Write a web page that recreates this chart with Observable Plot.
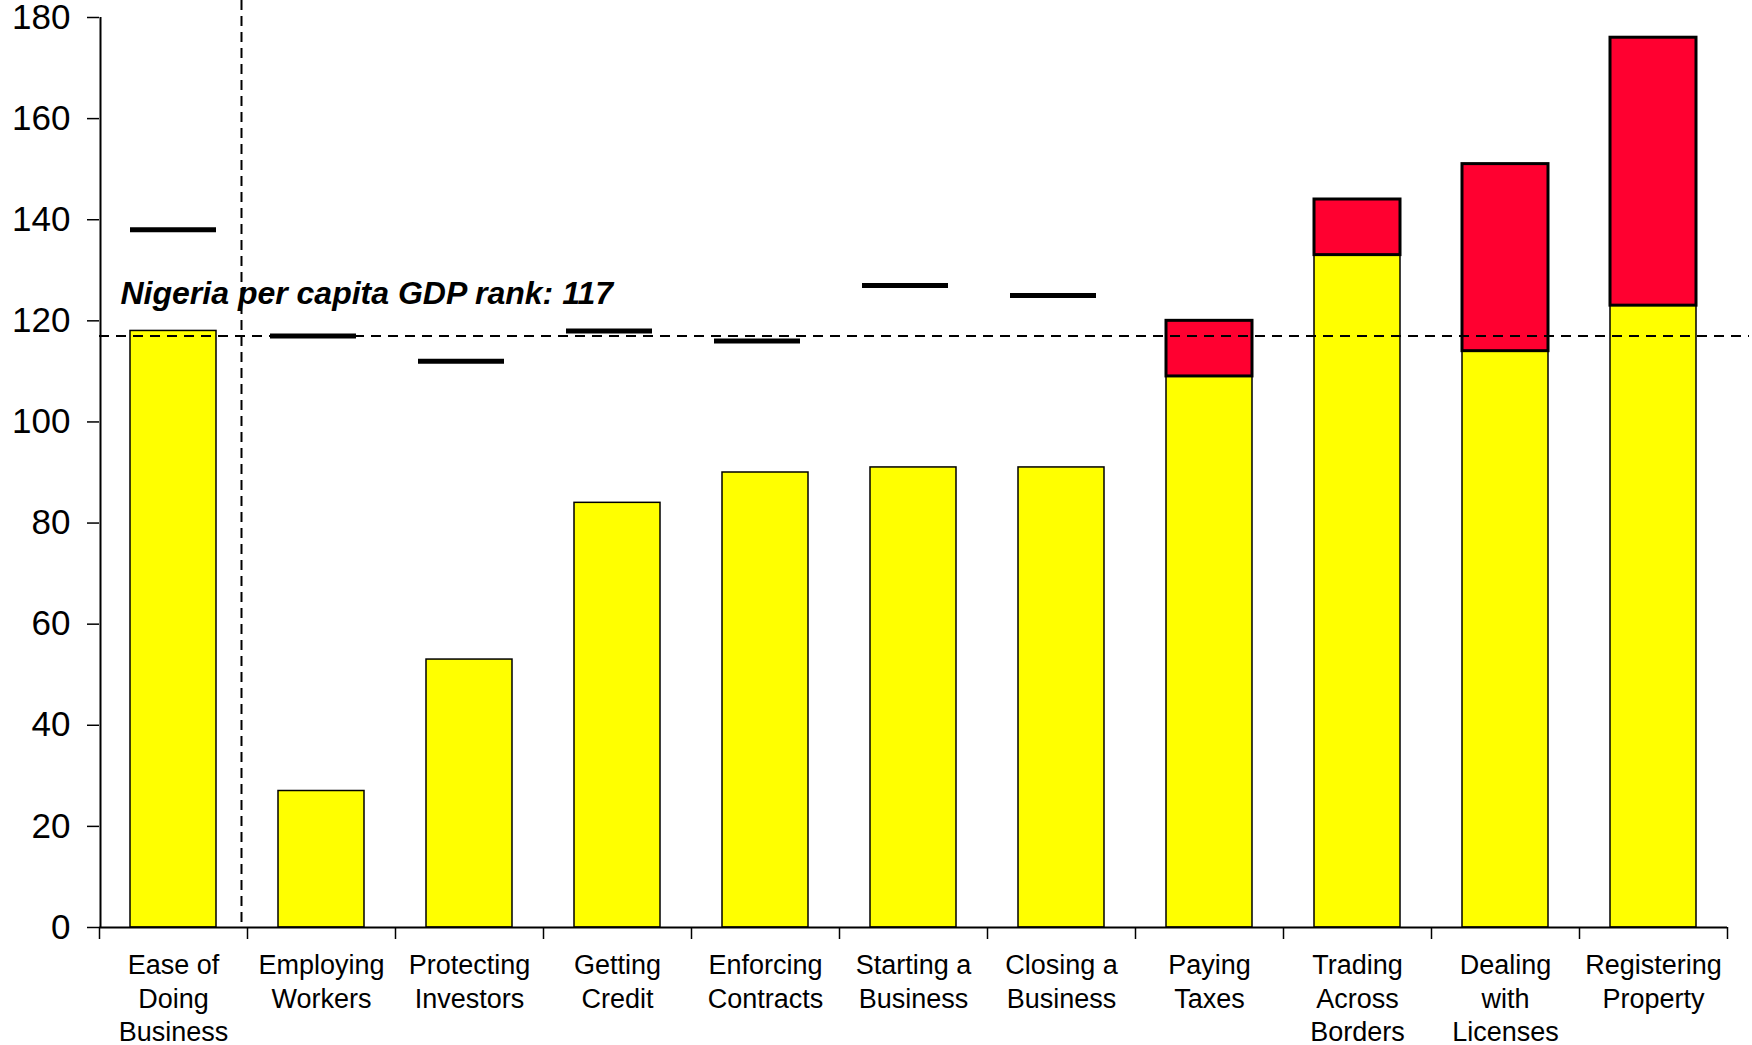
<!DOCTYPE html>
<html>
<head>
<meta charset="utf-8">
<script src="https://cdn.jsdelivr.net/npm/d3@7"></script>
<script src="https://cdn.jsdelivr.net/npm/@observablehq/plot@0.6"></script>
<style>
  body { margin: 0; background: #fff; }
  #chart svg { display: block; }
</style>
</head>
<body>
<div id="chart"></div>
<script>
const categories = [
  "Ease of Doing Business", "Employing Workers", "Protecting Investors", "Getting Credit",
  "Enforcing Contracts", "Starting a Business", "Closing a Business", "Paying Taxes",
  "Trading Across Borders", "Dealing with Licenses", "Registering Property"
];
const tickLabels = [
  "Ease of\nDoing\nBusiness", "Employing\nWorkers", "Protecting\nInvestors", "Getting\nCredit",
  "Enforcing\nContracts", "Starting a\nBusiness", "Closing a\nBusiness", "Paying\nTaxes",
  "Trading\nAcross\nBorders", "Dealing\nwith\nLicenses", "Registering\nProperty"
];
const yellowValues = [118, 27, 53, 84, 90, 91, 91, 109, 133, 114, 123];
const redTops      = [null, null, null, null, null, null, null, 120, 144, 151, 176];
const dashValues   = [138, 117, 112, 118, 116, 127, 125, null, null, null, null];
const gdpRank = 117;
const noteText = "Nigeria per capita GDP rank: 117";
const yTicks = [0, 20, 40, 60, 80, 100, 120, 140, 160, 180];

const rows = categories.map((c, i) => ({cat: c, label: tickLabels[i], yellow: yellowValues[i], red: redTops[i], dash: dashValues[i]}));
const redRows = rows.filter(d => d.red != null);
const dashFirst = rows.filter((d, i) => d.dash != null && i === 0);
const dashRest = rows.filter((d, i) => d.dash != null && i > 0);
const labelOf = Object.fromEntries(rows.map(d => [d.cat, d.label]));

const half = 74; // half a category step in px

const chart = Plot.plot({
  width: 1752,
  height: 1045,
  marginTop: 17,
  marginBottom: 118,
  marginLeft: 99,
  marginRight: 25,
  style: {fontFamily: "'Liberation Sans', Arial, sans-serif", background: "#fff", color: "#000", overflow: "visible"},
  x: {domain: categories, paddingInner: 0.42, paddingOuter: 0.21, axis: null, label: null},
  y: {domain: [0, 180], axis: null, label: null},
  marks: [
    Plot.barY(rows, {x: "cat", y: "yellow", fill: "#ffff00", stroke: "#000", strokeWidth: 1.5}),
    Plot.barY(redRows, {x: "cat", y1: "yellow", y2: "red", fill: "#ff0030", stroke: "#000", strokeWidth: 3}),
    Plot.tickY(dashFirst, {x: "cat", y: "dash", stroke: "#000", strokeWidth: 5}),
    Plot.tickY(dashRest, {x: "cat", y: "dash", stroke: "#000", strokeWidth: 5, dx: -8}),
    Plot.ruleY([gdpRank], {stroke: "#000", strokeWidth: 2, strokeDasharray: "10,7", insetRight: -22}),
    Plot.ruleX([categories[1]], {dx: -80, stroke: "#000", strokeWidth: 2, strokeDasharray: "10,6", insetTop: -17}),
    Plot.text([noteText], {x: () => categories[0], y: () => gdpRank, text: d => d, textAnchor: "start",
      dx: -53, dy: -42, fontSize: 32, fontWeight: "bold", fontStyle: "italic", fill: "#000"}),
    // axis lines
    Plot.ruleY([0], {stroke: "#000", strokeWidth: 2}),
    Plot.ruleX([categories[0]], {dx: -(half - 1), stroke: "#000", strokeWidth: 2}),
    Plot.axisY({ticks: yTicks, tickSize: 12, tickPadding: 17, fontSize: 35, strokeWidth: 1.5, label: null}),
    Plot.axisX({ticks: categories, tickSize: 12, dx: -half, tickFormat: () => "", strokeWidth: 1.5, label: null}),
    Plot.axisX({ticks: [categories[categories.length - 1]], tickSize: 12, dx: half, tickFormat: () => "", strokeWidth: 1.5, label: null}),
    Plot.axisX({ticks: categories, tickSize: 0, tickPadding: 23, fontSize: 27, lineHeight: 1.24, tickFormat: d => labelOf[d], label: null})
  ]
});
document.getElementById("chart").appendChild(chart);
</script>
</body>
</html>
